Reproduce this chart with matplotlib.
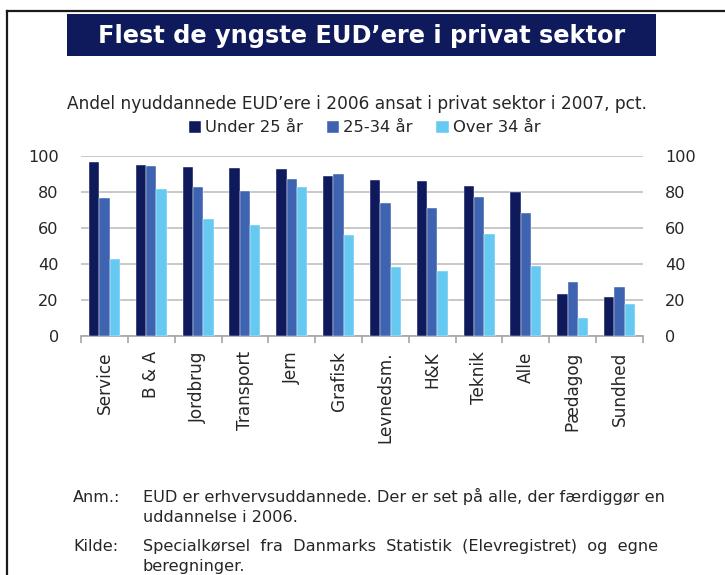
import matplotlib
matplotlib.use("Agg")
import matplotlib.pyplot as plt
from matplotlib.patches import Rectangle
from matplotlib.lines import Line2D
import numpy as np

plt.rcParams['font.family'] = ['DejaVu Sans']

categories = ["Service", "B & A", "Jordbrug", "Transport", "Jern", "Grafisk",
              "Levnedsm.", "H&K", "Teknik", "Alle", "Pædagog", "Sundhed"]
under25 = [96.7, 94.8, 93.7, 93.0, 92.6, 88.9, 86.3, 86.0, 83.2, 79.7, 23.3, 21.4]
age25_34 = [76.3, 94.1, 82.4, 80.2, 86.9, 89.6, 73.8, 70.8, 76.9, 68.2, 29.8, 27.0]
over34 = [42.7, 81.7, 65.1, 61.6, 82.6, 56.0, 38.3, 36.0, 56.7, 38.8, 10.2, 17.7]
series_names = ["Under 25 år", "25-34 år", "Over 34 år"]
yticks = [0, 20, 40, 60, 80, 100]

colors = ["#0f1a5c", "#3e63b0", "#66c9f2"]
txt = "#262626"

W, H = 725, 575
fig = plt.figure(figsize=(W / 100, H / 100), dpi=100)

def fx(x):
    return x / W

def fy(y):
    return 1 - y / H

# frame
fig.add_artist(Line2D([fx(7), fx(7)], [fy(11), 0], color="#1a1a1a", lw=1.6, transform=fig.transFigure))
fig.add_artist(Line2D([fx(7), 1], [fy(11), fy(11)], color="#1a1a1a", lw=1.6, transform=fig.transFigure))

# title box
fig.add_artist(Rectangle((fx(67), fy(56)), fx(656) - fx(67), fy(14) - fy(56),
                         facecolor="#0f1a5c", edgecolor="none", transform=fig.transFigure))
fig.text(fx(362), fy(36), "Flest de yngste EUD\u2019ere i privat sektor", color="white",
         fontsize=17.3, fontweight="bold", ha="center", va="center")

# subtitle
fig.text(fx(357), fy(104), "Andel nyuddannede EUD\u2019ere i 2006 ansat i privat sektor i 2007, pct.",
         color=txt, fontsize=12.25, ha="center", va="center")

ax = fig.add_axes([fx(81), fy(336), fx(643) - fx(81), fy(155.7) - fy(336)])
x = np.arange(len(categories)) + 0.5
bw = 0.22
data = [under25, age25_34, over34]
handles = []
for i, (vals, c, name) in enumerate(zip(data, colors, series_names)):
    b = ax.bar(x + (i - 1) * bw, vals, width=bw, color=c, edgecolor="white", linewidth=0.3,
               label=name, zorder=3)
    handles.append(b)

ax.set_xlim(0, len(categories))
ax.set_ylim(0, 100)
ax.set_yticks(yticks)
ax.yaxis.grid(True, color="#bfbfbf", lw=1.2, zorder=0)
ax.set_axisbelow(True)
for s in ["top", "right", "left"]:
    ax.spines[s].set_visible(False)
ax.spines["bottom"].set_color("#a6a6a6")
ax.spines["bottom"].set_linewidth(1.2)
ax.set_xticks(np.arange(len(categories) + 1))
ax.set_xticklabels([])
ax.tick_params(axis="x", which="major", length=5, width=1.2, color="#a6a6a6", direction="out")
ax.set_xticks(x, minor=True)
ax.set_xticklabels(categories, minor=True, rotation=90, va="top", ha="center",
                   fontsize=12.2, color=txt)
ax.tick_params(axis="x", which="minor", length=0, pad=11)
ax.tick_params(axis="y", length=0, pad=16, labelsize=11.6, labelcolor=txt)

ax2 = ax.twinx()
ax2.set_ylim(0, 100)
ax2.set_yticks(yticks)
for s in ["top", "right", "left", "bottom"]:
    ax2.spines[s].set_visible(False)
ax2.tick_params(axis="y", length=0, pad=16, labelsize=11.6, labelcolor=txt)

fig.legend(handles=handles, labels=series_names, loc="center", bbox_to_anchor=(fx(364.5), fy(128)),
           ncol=3, frameon=False, fontsize=11.8, handlelength=0.75, handleheight=0.75,
           handletextpad=0.25, columnspacing=1.45, labelcolor=txt)

# notes
nfs = 11.6

def note(x0, y, s):
    fig.text(fx(x0), fy(y + 8), s, fontsize=nfs, color=txt, va="bottom")

note(73, 497, "Anm.:")
note(143, 497, "EUD er erhvervsuddannede. Der er set på alle, der færdiggør en")
note(143, 517, "uddannelse i 2006.")
note(73, 546, "Kilde:")
note(143, 546, "Specialkørsel  fra  Danmarks  Statistik  (Elevregistret)  og  egne")
note(143, 566, "beregninger.")

fig.savefig("out.png", dpi=100)
